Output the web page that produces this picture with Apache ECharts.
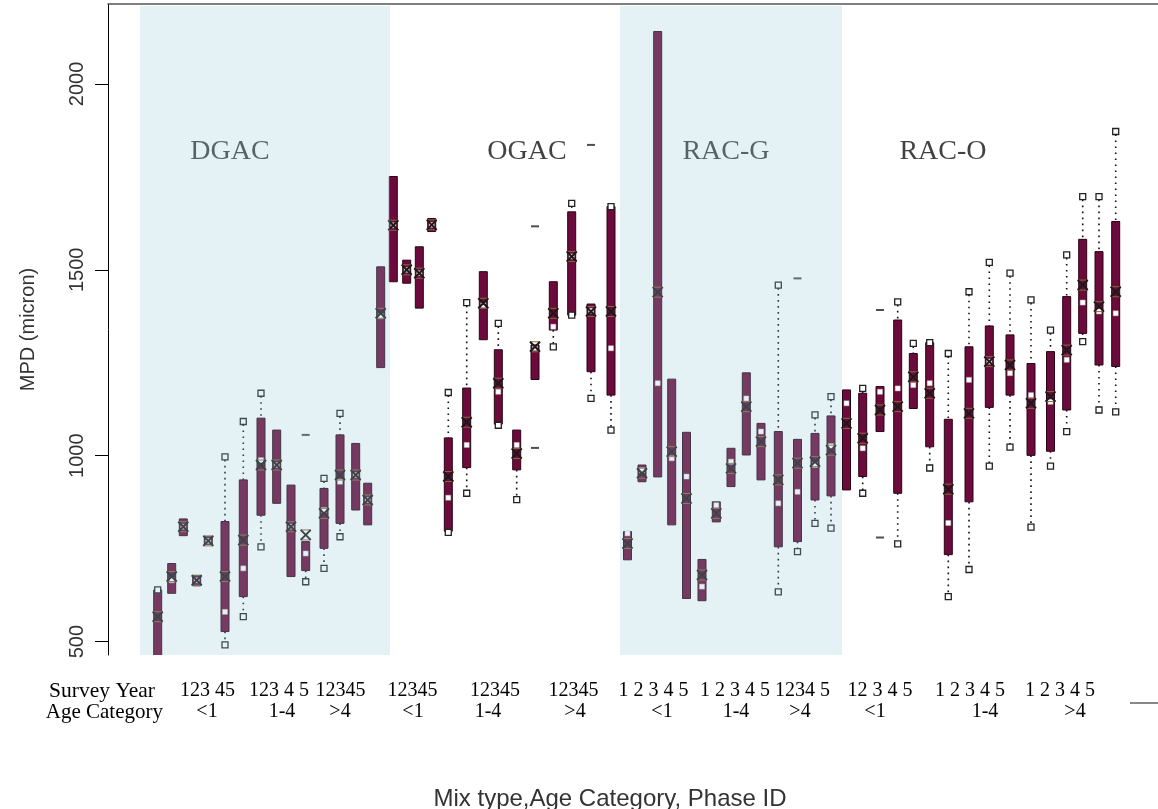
<!DOCTYPE html>
<html>
<head>
<meta charset="utf-8">
<script src="https://cdn.jsdelivr.net/npm/echarts@6/dist/echarts.min.js"></script>
<style>
  html, body { margin: 0; padding: 0; background: #ffffff; }
  #chart { width: 1158px; height: 809px; }
</style>
</head>
<body>
<div id="chart"></div>
<script>
// ---------- DATA ----------
// Position of each box along the (continuous) category axis, 60 boxes:
// DGAC (<1, 1-4, >4), OGAC, RAC-G, RAC-O; 5 survey years each.
const boxPos = [
  49.7, 63.7, 75.3, 88.7, 100.3, 117, 135.3, 153, 168.7, 183, 197.7, 216, 232, 247.7, 259.7,
  272.7, 285.3, 298.7, 311.3, 323.7, 340.3, 358.7, 375.3, 390.3, 408.7, 427, 445.3, 463.7, 483, 503,
  519.5, 534, 549.7, 563.7, 578.5, 594, 608.3, 623, 638.3, 653, 670.3, 689.5, 707, 723, 738.5,
  754.7, 772, 789.7, 805.3, 821.7, 840.3, 861, 881.3, 902, 923, 942.5, 958.7, 974.7, 991, 1007.7
];
// lower whisker end (null = none)
const lowVals = [
  null, null, null, null, null, 491, 567, 755, null, null, 661, 697, 782, null, null,
  null, null, null, null, null, 794, 899, null, 1082, 882, null, 1293, 1378, 1154, 1069,
  null, null, null, null, null, null, null, null, null, null, 634, 742, 818, 805, null,
  899, null, 763, null, 967, 621, 694, 972, 1023, 808, 972, 1065, 1307, 1123, 1118
];
const q1Vals = [
  420, 630, 785, 650, 762, 527, 621, 840, 872, 675, 691, 751, 818, 854, 814,
  1237, 1468, 1464, 1397, 1603, 797, 968, 1312, 1085, 962, 1205, 1338, 1378, 1226, 1163,
  720, 930, 943, 814, 616, 610, 822, 917, 1002, 935, 755, 769, 881, 892, 908,
  944, 1065, 899, 1127, 1024, 734, 876, 1130, 1163, 1001, 1012, 1123, 1329, 1244, 1240
];
const medianVals = [
  450, 665, 809, 665, 771, 580, 697, 988, 975, 809, 737, 854, 930, 948, 881,
  1375, 1620, 1500, 1491, 1621, 887, 1029, 1405, 1172, 1029, 1290, 1347, 1536, 1390, 1289,
  791, 961, 1195, 993, 944, 648, 867, 984, 1154, 1065, 872, 903, 975, 1026, 1141,
  1020, 1172, 1181, 1190, 1195, 819, 1204, 1253, 1222, 1163, 1145, 1258, 1412, 1388, 1383
];
const q3Vals = [
  639, 710, 830, 678, 782, 823, 935, 1101, 1069, 921, 769, 912, 1056, 1033, 926,
  1508, 1751, 1526, 1562, 1638, 1048, 1182, 1495, 1285, 1069, 1298, 1468, 1656, 1408, 1670,
  796, 975, 2141, 1206, 1063, 721, 876, 1020, 1223, 1087, 1065, 1044, 1060, 1107, 1177,
  1168, 1186, 1365, 1275, 1304, 1098, 1293, 1349, 1325, 1248, 1280, 1428, 1582, 1549, 1630
];
// upper whisker end (null = none)
const highVals = [
  639, null, null, null, null, 997, 1092, 1168, null, null, null, 939, 1114, null, null,
  null, null, null, null, null, 1170, 1412, null, 1356, null, null, null, 1679, null, 1670,
  null, null, null, null, null, null, null, null, null, null, 1459, null, 1110, 1159, null,
  1181, null, 1414, 1302, 1304, 1275, 1441, 1520, 1491, 1419, 1338, 1540, 1697, 1697, 1872
];
const meanVals = [
  567, 675, 809, 665, 771, 675, 773, 975, 975, 809, 787, 845, 948, 948, 881,
  1383, 1620, 1500, 1491, 1621, 944, 1090, 1410, 1195, 1006, 1293, 1383, 1536, 1388, 1388,
  764, 953, 1440, 1011, 885, 679, 845, 966, 1132, 1038, 935, 980, 984, 1015, 1087,
  1047, 1123, 1132, 1212, 1168, 910, 1114, 1253, 1244, 1141, 1159, 1284, 1459, 1401, 1441
];
// extreme values drawn as dashes: [box index, value]
const dashPoints = [[10, 1056], [25, 1617], [25, 1021], [28, 1836], [41, 1477], [46, 1392], [46, 780]];

// mix types and shaded bands
const mixTypes = ['DGAC', 'OGAC', 'RAC-G', 'RAC-O'];
const mixLabelPos = [122, 419, 618, 835];
const mixLabelValue = 1817;
const shadeBands = [[32, 282], [512, 734]];

// bottom label rows
const surveyLabels = ['123 45', '123 4 5', '12345', '12345', '12345', '12345',
  '1 2 3 4 5', '1 2 3 4 5', '1234 5', '12 3 4 5', '1 2 3 4 5', '1 2 3 4 5'];
const surveyPos = [99.5, 171, 232.5, 304.5, 387, 465.5, 545.5, 627, 694.5, 772, 862, 952];
const ageLabels = ['<1', '1-4', '>4', '<1', '1-4', '>4', '<1', '1-4', '>4', '<1', '1-4', '>4'];
const agePos = [99, 174, 232, 305, 380, 467, 554, 628, 692, 767, 877, 967];
const yTicks = [500, 1000, 1500, 2000];

// ---------- CHART ----------
const boxData = boxPos.map((p, i) => [p,
  lowVals[i] == null ? NaN : lowVals[i], q1Vals[i], medianVals[i], q3Vals[i],
  highVals[i] == null ? NaN : highVals[i], meanVals[i]]);

const serif = 'Liberation Serif';
const sans = 'Liberation Sans';

function renderBox(params, api) {
  const x = api.value(0);
  const low = api.value(1), q1 = api.value(2), med = api.value(3),
        q3 = api.value(4), high = api.value(5), mean = api.value(6);
  const P = v => api.coord([x, v]);
  const cx = P(q1)[0];
  const yq1 = P(q1)[1], yq3 = P(q3)[1];
  const w = 8;
  const ch = [];
  const dot = { stroke: '#111', lineWidth: 1.6, lineDash: [1.6, 4.4] };
  const endSq = { fill: '#ffffff', stroke: '#222', lineWidth: 1.3 };
  if (!isNaN(high)) {
    const yh = P(high)[1];
    if (yq3 - yh > 4) ch.push({ type: 'line', shape: { x1: cx, y1: yh + 3, x2: cx, y2: yq3 }, style: dot });
  }
  if (!isNaN(low)) {
    const yl = P(low)[1];
    if (yl - yq1 > 4) ch.push({ type: 'line', shape: { x1: cx, y1: yq1, x2: cx, y2: yl - 3 }, style: dot });
  }
  ch.push({ type: 'rect', shape: { x: cx - w / 2, y: yq3, width: w, height: Math.max(yq1 - yq3, 2) },
    style: { fill: '#6c0b3b', stroke: '#2a0414', lineWidth: 1 } });
  if (!isNaN(high)) {
    const yh = P(high)[1];
    ch.push({ type: 'rect', shape: { x: cx - 3, y: yh - 3, width: 6, height: 6 }, style: endSq });
  }
  if (!isNaN(low)) {
    const yl = P(low)[1];
    ch.push({ type: 'rect', shape: { x: cx - 3, y: yl - 3, width: 6, height: 6 }, style: endSq });
  }
  const ym = P(med)[1];
  ch.push({ type: 'rect', shape: { x: cx - 2.5, y: ym - 2.5, width: 5, height: 5 },
    style: { fill: '#ffffff', stroke: '#bbb', lineWidth: 0.5 } });
  const ya = P(mean)[1];
  const mx = 5, my = 5;
  ch.push({ type: 'line', shape: { x1: cx - mx, y1: ya - my, x2: cx + mx, y2: ya - my }, style: { stroke: '#8a6a3a', lineWidth: 1 } });
  ch.push({ type: 'line', shape: { x1: cx - mx, y1: ya + my, x2: cx + mx, y2: ya + my }, style: { stroke: '#8a6a3a', lineWidth: 1 } });
  ch.push({ type: 'line', shape: { x1: cx - mx, y1: ya - my, x2: cx + mx, y2: ya + my }, style: { stroke: '#1a1a1a', lineWidth: 2 } });
  ch.push({ type: 'line', shape: { x1: cx + mx, y1: ya - my, x2: cx - mx, y2: ya + my }, style: { stroke: '#1a1a1a', lineWidth: 2 } });
  return { type: 'group', children: ch };
}

function renderShade(params, api) {
  const a = api.coord([api.value(0), 2215]);
  const b = api.coord([api.value(1), 464]);
  return { type: 'rect', shape: { x: a[0], y: a[1] + 2, width: b[0] - a[0], height: b[1] - a[1] - 2 },
    style: { fill: 'rgba(147,199,215,0.25)' } };
}

const chart = echarts.init(document.getElementById('chart'), null, { renderer: 'canvas' });
const xBase = { type: 'value', min: 0, max: 1050, splitLine: { show: false }, axisTick: { show: false } };
chart.setOption({
  animation: false,
  backgroundColor: '#ffffff',
  title: {
    text: 'Mix type,Age Category, Phase ID', left: 605, top: 782, textAlign: 'center',
    textStyle: { fontFamily: sans, fontSize: 24, fontWeight: 'normal', color: '#333' }
  },
  grid: { left: 108, right: 0, top: 4, bottom: 154, containLabel: false },
  xAxis: [
    Object.assign({}, xBase, {
      position: 'bottom', offset: 36, axisLine: { show: false },
      axisLabel: { customValues: surveyPos, formatter: v => surveyLabels[surveyPos.indexOf(v)],
        margin: 0, verticalAlign: 'middle', fontFamily: serif, fontSize: 20, color: '#000' },
      name: 'Survey Year', nameLocation: 'start', nameGap: -47,
      nameTextStyle: { fontFamily: serif, fontSize: 21.5, color: '#000' }
    }),
    Object.assign({}, xBase, {
      position: 'bottom', offset: 57, axisLine: { show: false },
      axisLabel: { customValues: agePos, formatter: v => ageLabels[agePos.indexOf(v)],
        margin: 0, verticalAlign: 'middle', fontFamily: serif, fontSize: 20, color: '#000' },
      name: 'Age Category', nameLocation: 'start', nameGap: -55,
      nameTextStyle: { fontFamily: serif, fontSize: 21, color: '#000' }
    }),
    Object.assign({}, xBase, {
      position: 'top', axisLine: { show: true, lineStyle: { color: '#555', width: 1.5 } },
      axisLabel: { show: false }
    })
  ],
  yAxis: {
    type: 'value', min: 464, max: 2215,
    axisLine: { show: true, lineStyle: { color: '#000', width: 1 } },
    axisTick: { show: true, length: 13, customValues: yTicks, lineStyle: { color: '#000' } },
    axisLabel: { customValues: yTicks, rotate: 90, margin: 21, fontFamily: sans, fontSize: 20, color: '#333',
      formatter: v => String(v) },
    splitLine: { show: false },
    name: 'MPD (micron)', nameLocation: 'middle', nameGap: 70, nameRotate: 90,
    nameTextStyle: { fontFamily: sans, fontSize: 20, color: '#333' }
  },
  graphic: [{
    type: 'line', shape: { x1: 1130, y1: 703, x2: 1158, y2: 703 },
    style: { stroke: '#888', lineWidth: 2 }
  }],
  series: [
    {
      type: 'scatter', xAxisIndex: 0, z: 1, silent: true, symbolSize: 0,
      data: mixTypes.map((n, i) => ({ name: n, value: [mixLabelPos[i], mixLabelValue] })),
      label: { show: true, position: 'inside', formatter: '{b}', fontFamily: serif, fontSize: 28, color: '#111' }
    },
    {
      type: 'custom', xAxisIndex: 0, z: 2, clip: true, silent: true,
      renderItem: renderBox, data: boxData
    },
    {
      type: 'scatter', xAxisIndex: 0, z: 2, silent: true, symbol: 'rect', symbolSize: [8, 2],
      itemStyle: { color: '#222' },
      data: dashPoints.map(d => [boxPos[d[0]], d[1]])
    },
    {
      type: 'custom', xAxisIndex: 0, z: 3, clip: true, silent: true,
      renderItem: renderShade, data: shadeBands
    }
  ]
});
</script>
</body>
</html>
